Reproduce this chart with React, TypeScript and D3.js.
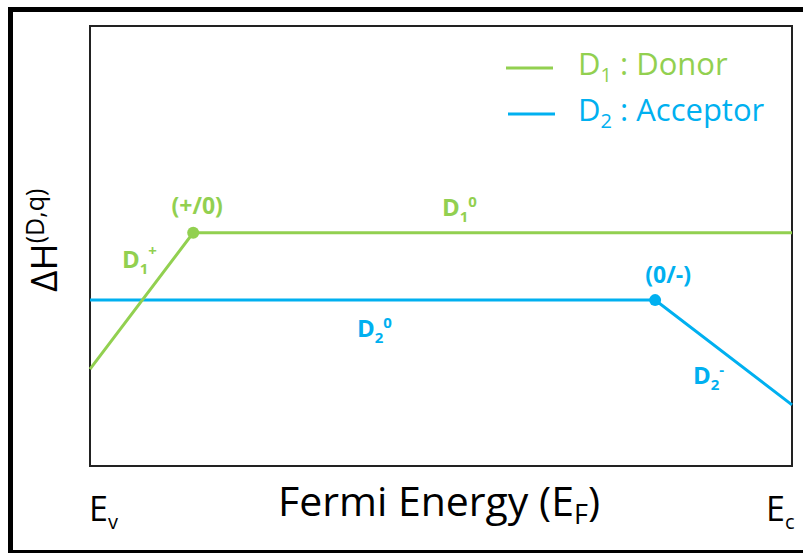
import React from "react";
import * as d3 from "d3";

// Formation energy vs Fermi level (schematic, arbitrary units)
// x: Fermi energy from E_v (0) to E_c (1); y: formation enthalpy ΔH
const donorEF = [0, 0.147, 1];
const donorH = [2.2, 5.3, 5.3];
const acceptorEF = [0, 0.805, 1];
const acceptorH = [3.77, 3.77, 1.39];

// Charge transition levels
const transitionEF = [0.147, 0.805];
const transitionH = [5.3, 3.77];
const transitionLabels = ["(+/0)", "(0/-)"];

const GREEN = "#92D050";
const BLUE = "#00B0F0";
const FONT = "'Open Sans', Lato, sans-serif";

const W = 803;
const H = 553;
const plot = { left: 90, right: 792, top: 26, bottom: 466 };

export default function App() {
  const x = d3.scaleLinear().domain([0, 1]).range([plot.left, plot.right]);
  const y = d3.scaleLinear().domain([0, 10]).range([plot.bottom, plot.top]);

  const line = d3
    .line<[number, number]>()
    .x((d) => x(d[0]))
    .y((d) => y(d[1]));

  const donorPts = donorEF.map((e, i) => [e, donorH[i]] as [number, number]);
  const acceptorPts = acceptorEF.map((e, i) => [e, acceptorH[i]] as [number, number]);

  const colors = [GREEN, BLUE];

  return (
    <svg
      width={W}
      height={H}
      style={{ position: "absolute", left: 0, top: 0, background: "#fff" }}
      fontFamily={FONT}
    >
      {/* outer frame */}
      <rect x={10.5} y={9.5} width={820} height={543} fill="none" stroke="#000" strokeWidth={5} />

      {/* plot box */}
      <rect
        x={plot.left}
        y={plot.top}
        width={plot.right - plot.left}
        height={plot.bottom - plot.top}
        fill="#fff"
        stroke="#222"
        strokeWidth={2}
      />

      {/* lines */}
      <path d={line(acceptorPts) || ""} fill="none" stroke={BLUE} strokeWidth={3} />
      <path d={line(donorPts) || ""} fill="none" stroke={GREEN} strokeWidth={3} />

      {/* transition points */}
      {transitionEF.map((e, i) => (
        <circle key={i} cx={x(e)} cy={y(transitionH[i])} r={6} fill={colors[i]} />
      ))}

      {/* transition labels */}
      {transitionEF.map((e, i) => (
        <text
          key={"tl" + i}
          x={x(e) + (i === 0 ? 4 : 13)}
          y={y(transitionH[i]) - (i === 0 ? 19 : 17)}
          textAnchor="middle"
          fontWeight="bold"
          fontSize={23}
          fill={colors[i]}
        >
          {transitionLabels[i]}
        </text>
      ))}

      {/* charge-state labels */}
      <g fontWeight="bold" fontSize={24}>
        <text x={122} y={268} fill={GREEN}>
          D<tspan fontSize={15} dy={6}>1</tspan>
          <tspan fontSize={15} dy={-18}>+</tspan>
        </text>
        <text x={442} y={216} fill={GREEN}>
          D<tspan fontSize={15} dy={6}>1</tspan>
          <tspan fontSize={15} dy={-15}>0</tspan>
        </text>
        <text x={357} y={337} fill={BLUE}>
          D<tspan fontSize={15} dy={6}>2</tspan>
          <tspan fontSize={15} dy={-15}>0</tspan>
        </text>
        <text x={693} y={384} fill={BLUE}>
          D<tspan fontSize={15} dy={6}>2</tspan>
          <tspan fontSize={15} dy={-15}>-</tspan>
        </text>
      </g>

      {/* legend */}
      <line x1={506} x2={553} y1={68} y2={68} stroke={GREEN} strokeWidth={3} />
      <line x1={508} x2={555} y1={114} y2={114} stroke={BLUE} strokeWidth={3} />
      <text x={578} y={75} fontSize={31} fill={GREEN}>
        D<tspan fontSize={20} dy={7}>1</tspan>
        <tspan dy={-7}> : Donor</tspan>
      </text>
      <text x={578} y={121} fontSize={31} fill={BLUE}>
        D<tspan fontSize={20} dy={7}>2</tspan>
        <tspan dy={-7}> : Acceptor</tspan>
      </text>

      {/* axis labels */}
      <text x={89} y={521} fontSize={34} fill="#000">
        E<tspan fontSize={20} dy={8}>v</tspan>
      </text>
      <text x={766} y={521} fontSize={34} fill="#000">
        E<tspan fontSize={20} dy={8}>c</tspan>
      </text>
      <text x={278} y={516} fontSize={41} fill="#000">
        Fermi Energy (E<tspan fontSize={27} dy={8}>F</tspan>
        <tspan dy={-8}>)</tspan>
      </text>
      <text transform="translate(57,292) rotate(-90)" fontSize={37} fill="#000">
        ΔH<tspan fontSize={25} dy={-13}>(D,q)</tspan>
      </text>
    </svg>
  );
}
